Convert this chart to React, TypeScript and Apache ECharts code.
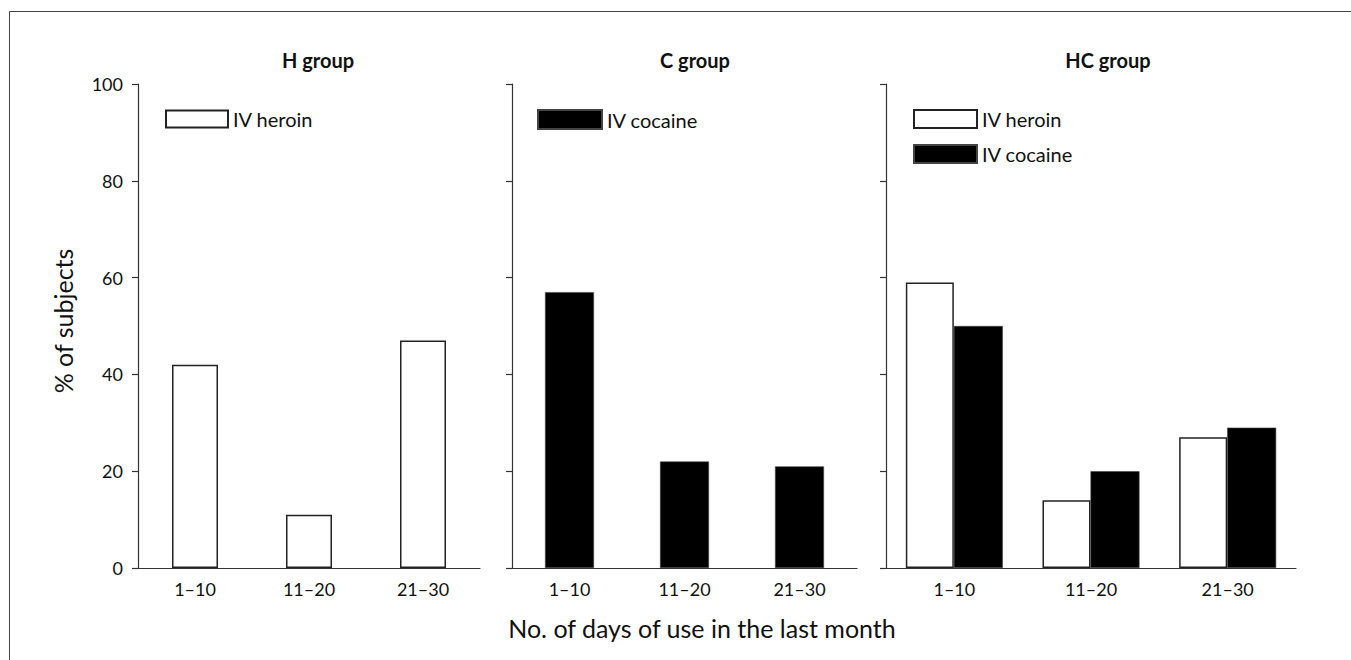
import React, { useEffect, useRef } from "react";
import * as echarts from "echarts";

const categories = ["1\u201310", "11\u201320", "21\u201330"];
const hGroupHeroin = [42, 11, 47];
const cGroupCocaine = [57, 22, 21];
const hcGroupHeroin = [59, 14, 27];
const hcGroupCocaine = [50, 20, 29];
const panelTitles = ["H group", "C group", "HC group"];
const heroinName = "IV heroin";
const cocaineName = "IV cocaine";
const yAxisTitle = "% of subjects";
const xAxisTitle = "No. of days of use in the last month";

const FONT = "Lato, 'Open Sans', sans-serif";
const AXIS_COLOR = "#333";

const whiteStyle = { color: "#ffffff", borderColor: "#222", borderWidth: 1.5 };
const blackStyle = { color: "#000000", borderColor: "#444", borderWidth: 0.6 };

export default function App() {
  const ref = useRef<HTMLDivElement>(null);
  useEffect(() => {
    if (!ref.current) return;
    const chart = echarts.init(ref.current, null, { renderer: "svg" });

    const grids = [
      { left: 138, top: 84, width: 342, height: 484 },
      { left: 512, top: 84, width: 345, height: 484 },
      { left: 886, top: 84, width: 410, height: 484 },
    ];

    const xAxes = grids.map((_, i) => ({
      type: "category",
      gridIndex: i,
      data: categories,
      boundaryGap: true,
      axisLine: { lineStyle: { color: AXIS_COLOR, width: 1.2 } },
      axisTick: { alignWithLabel: true, length: 6, lineStyle: { color: AXIS_COLOR, width: 1.2 } },
      axisLabel: { color: "#111", fontSize: 18, fontFamily: FONT, margin: 12 },
      splitLine: { show: false },
    }));

    const yAxes = grids.map((_, i) => ({
      type: "value",
      gridIndex: i,
      min: 0,
      max: 100,
      interval: 20,
      axisLine: { show: true, lineStyle: { color: AXIS_COLOR, width: 1.2 } },
      axisTick: { show: true, length: 6, lineStyle: { color: AXIS_COLOR, width: 1.2 } },
      axisLabel: { show: i === 0, color: "#111", fontSize: 18, fontFamily: FONT, margin: 15 },
      splitLine: { show: false },
    }));

    const titleXs = [313, 690, 1103];
    const legendText = { fontSize: 20, color: "#111", fontFamily: FONT };

    const option = {
      animation: false,
      backgroundColor: "#ffffff",
      textStyle: { fontFamily: FONT },
      title: panelTitles.map((t, i) => ({
        text: t,
        left: titleXs[i],
        top: 45,
        textAlign: "center",
        textStyle: { fontSize: 20, fontWeight: "bold", color: "#111", fontFamily: FONT },
      })),
      legend: [
        {
          data: [heroinName],
          left: 160,
          top: 104,
          itemWidth: 62,
          itemHeight: 17,
          icon: "rect",
          textStyle: legendText,
          selectedMode: false,
        },
        {
          data: [cocaineName],
          left: 532,
          top: 104,
          itemWidth: 64,
          itemHeight: 19,
          icon: "rect",
          textStyle: legendText,
          selectedMode: false,
        },
        {
          data: [heroinName, cocaineName],
          orient: "vertical",
          left: 908,
          top: 104,
          itemWidth: 63,
          itemHeight: 18,
          itemGap: 15,
          icon: "rect",
          textStyle: legendText,
          selectedMode: false,
        },
      ],
      grid: grids,
      xAxis: xAxes,
      yAxis: yAxes,
      series: [
        {
          type: "bar",
          name: heroinName,
          xAxisIndex: 0,
          yAxisIndex: 0,
          data: hGroupHeroin,
          barWidth: 46,
          itemStyle: whiteStyle,
        },
        {
          type: "bar",
          name: cocaineName,
          xAxisIndex: 1,
          yAxisIndex: 1,
          data: cGroupCocaine,
          barWidth: 49,
          itemStyle: blackStyle,
        },
        {
          type: "bar",
          name: heroinName,
          xAxisIndex: 2,
          yAxisIndex: 2,
          data: hcGroupHeroin,
          barWidth: 48,
          barGap: "0%",
          itemStyle: whiteStyle,
        },
        {
          type: "bar",
          name: cocaineName,
          xAxisIndex: 2,
          yAxisIndex: 2,
          data: hcGroupCocaine,
          barWidth: 49,
          barGap: "0%",
          itemStyle: blackStyle,
        },
      ],
      graphic: [
        {
          type: "rect",
          shape: { x: 9.5, y: 11.5, width: 1500, height: 800 },
          style: { fill: "none", stroke: "#444", lineWidth: 1 },
          silent: true,
        },
        {
          type: "text",
          x: 63,
          y: 321,
          rotation: Math.PI / 2,
          style: {
            text: yAxisTitle,
            fontSize: 25,
            fontFamily: FONT,
            fill: "#111",
            textAlign: "center",
            textVerticalAlign: "middle",
          },
        },
        {
          type: "text",
          x: 702,
          y: 628,
          style: {
            text: xAxisTitle,
            fontSize: 25,
            fontFamily: FONT,
            fill: "#111",
            textAlign: "center",
            textVerticalAlign: "middle",
          },
        },
      ],
    };

    chart.setOption(option as any);
    return () => chart.dispose();
  }, []);

  return (
    <div
      ref={ref}
      style={{ position: "fixed", left: 0, top: 0, width: 1351, height: 660 }}
    />
  );
}
